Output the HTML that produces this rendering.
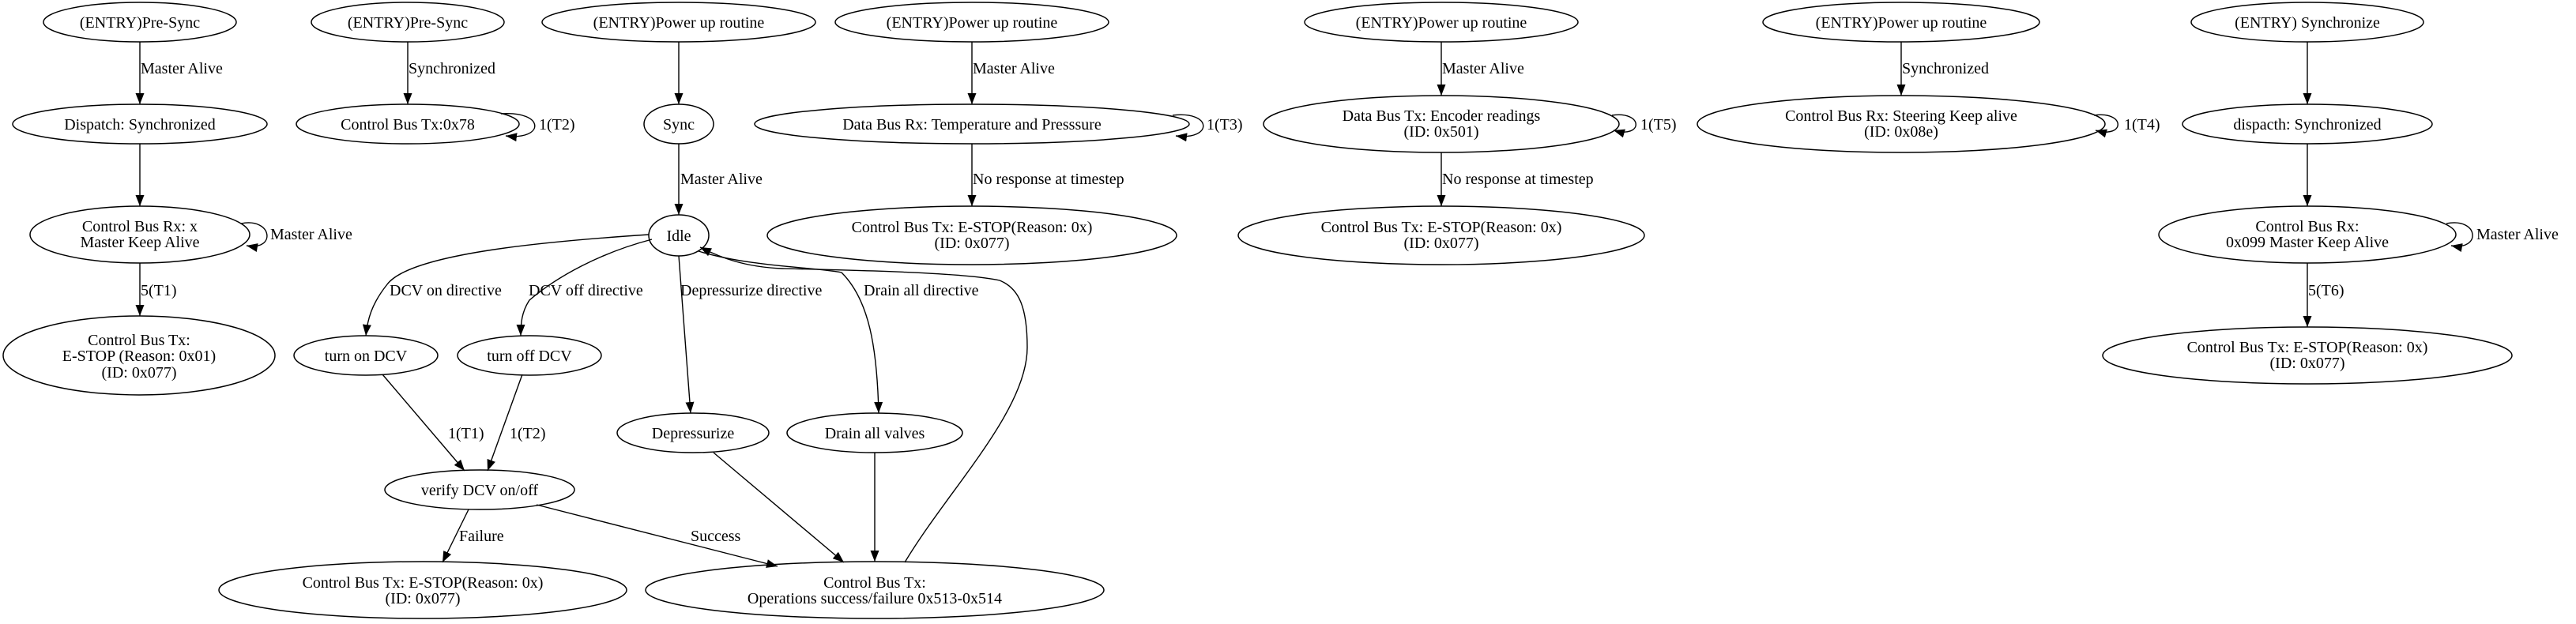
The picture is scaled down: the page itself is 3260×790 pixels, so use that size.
<!DOCTYPE html>
<html><head><meta charset="utf-8"><style>
html,body{margin:0;padding:0;background:#fff;width:3260px;height:790px;overflow:hidden}
svg text{font-family:"Liberation Serif","Times New Roman",serif;font-size:20px;fill:#000}
</style></head><body>
<svg width="3260" height="790" viewBox="0 0 3260 790" xmlns="http://www.w3.org/2000/svg">
<defs>
<marker id="a" markerUnits="userSpaceOnUse" markerWidth="14" markerHeight="11" refX="14" refY="5.5" orient="auto">
<path d="M0,0 L14,5.5 L0,11 z" fill="#000"/></marker>
</defs>
<g fill="none" stroke="#000" stroke-width="1.5">
<!-- col1 -->
<ellipse cx="177" cy="28" rx="122" ry="25"/>
<ellipse cx="177" cy="157" rx="161" ry="25"/>
<ellipse cx="177" cy="297" rx="139" ry="36"/>
<ellipse cx="176" cy="450" rx="172" ry="50"/>
<!-- col2 -->
<ellipse cx="516" cy="28" rx="122" ry="25"/>
<ellipse cx="516" cy="157" rx="141" ry="25"/>
<!-- col3 -->
<ellipse cx="859" cy="28" rx="173" ry="25"/>
<ellipse cx="859" cy="157" rx="44" ry="25"/>
<ellipse cx="859" cy="298" rx="38" ry="26"/>
<ellipse cx="463" cy="450" rx="91" ry="25"/>
<ellipse cx="670" cy="450" rx="91" ry="25"/>
<ellipse cx="877" cy="548" rx="96" ry="25"/>
<ellipse cx="1107" cy="548" rx="111" ry="25"/>
<ellipse cx="607" cy="620" rx="120" ry="25"/>
<ellipse cx="535" cy="747" rx="258" ry="36"/>
<ellipse cx="1107" cy="747" rx="290" ry="36"/>
<!-- col4 -->
<ellipse cx="1230" cy="28" rx="173" ry="25"/>
<ellipse cx="1230" cy="157" rx="275" ry="25"/>
<ellipse cx="1230" cy="298" rx="259" ry="37"/>
<!-- col5 -->
<ellipse cx="1824" cy="28" rx="173" ry="25"/>
<ellipse cx="1824" cy="157" rx="225" ry="36"/>
<ellipse cx="1824" cy="298" rx="257" ry="37"/>
<!-- col6 -->
<ellipse cx="2406" cy="28" rx="175" ry="25"/>
<ellipse cx="2406" cy="157" rx="258" ry="36"/>
<!-- col7 -->
<ellipse cx="2920" cy="28" rx="147" ry="25"/>
<ellipse cx="2920" cy="157" rx="158" ry="25"/>
<ellipse cx="2920" cy="297" rx="188" ry="36"/>
<ellipse cx="2920" cy="450" rx="259" ry="36"/>
</g>
<g fill="none" stroke="#000" stroke-width="1.4" marker-end="url(#a)">
<path d="M177,53 L177,132"/>
<path d="M177,182 L177,261"/>
<path d="M177,333 L177,400"/>
<path d="M305,283 C345,275 350,318 312,311"/>
<path d="M516,53 L516,132"/>
<path d="M634,144 C690,140 690,178 640,172"/>
<path d="M859,53 L859,132"/>
<path d="M859,182 L859,272"/>
<path d="M821,297 C700,305 520,320 490,360 C470,385 465,405 463,425"/>
<path d="M825,303 C760,320 705,350 670,380 C660,395 659,410 659,425"/>
<path d="M859,324 L874,523"/>
<path d="M884,318 C950,338 1030,338 1065,345 C1100,380 1110,440 1112,523"/>
<path d="M1145,712 C1200,620 1300,520 1300,440 C1300,390 1290,365 1265,355 C1220,345 1080,342 990,340 C940,338 910,325 886,313"/>
<path d="M484,474 L588,596"/>
<path d="M661,474 L617,596"/>
<path d="M593,645 L560,712"/>
<path d="M679,639 L984,717"/>
<path d="M903,573 L1068,712"/>
<path d="M1107,573 L1107,711"/>
<path d="M1230,53 L1230,132"/>
<path d="M1230,182 L1230,261"/>
<path d="M1484,146 C1535,140 1535,178 1488,172"/>
<path d="M1824,53 L1824,121"/>
<path d="M1824,193 L1824,261"/>
<path d="M2040,146 C2080,140 2080,176 2042,165"/>
<path d="M2406,53 L2406,121"/>
<path d="M2650,146 C2690,140 2690,176 2652,165"/>
<path d="M2920,53 L2920,132"/>
<path d="M2920,182 L2920,261"/>
<path d="M2920,333 L2920,414"/>
<path d="M3096,283 C3138,275 3140,318 3102,311"/>
</g>
<g text-anchor="middle">
<text x="177" y="35">(ENTRY)Pre-Sync</text>
<text x="177" y="164">Dispatch: Synchronized</text>
<text x="177" y="293">Control Bus Rx: x</text>
<text x="177" y="313">Master Keep Alive</text>
<text x="176" y="437">Control Bus Tx:</text>
<text x="176" y="457">E-STOP (Reason: 0x01)</text>
<text x="176" y="478">(ID: 0x077)</text>
<text x="516" y="35">(ENTRY)Pre-Sync</text>
<text x="516" y="164">Control Bus Tx:0x78</text>
<text x="859" y="35">(ENTRY)Power up routine</text>
<text x="859" y="164">Sync</text>
<text x="859" y="305">Idle</text>
<text x="463" y="457">turn on DCV</text>
<text x="670" y="457">turn off DCV</text>
<text x="877" y="555">Depressurize</text>
<text x="1107" y="555">Drain all valves</text>
<text x="607" y="627">verify DCV on/off</text>
<text x="535" y="744">Control Bus Tx: E-STOP(Reason: 0x)</text>
<text x="535" y="764">(ID: 0x077)</text>
<text x="1107" y="744">Control Bus Tx:</text>
<text x="1107" y="764">Operations success/failure 0x513-0x514</text>
<text x="1230" y="35">(ENTRY)Power up routine</text>
<text x="1230" y="164">Data Bus Rx: Temperature and Presssure</text>
<text x="1230" y="294">Control Bus Tx: E-STOP(Reason: 0x)</text>
<text x="1230" y="314">(ID: 0x077)</text>
<text x="1824" y="35">(ENTRY)Power up routine</text>
<text x="1824" y="153">Data Bus Tx: Encoder readings</text>
<text x="1824" y="173">(ID: 0x501)</text>
<text x="1824" y="294">Control Bus Tx: E-STOP(Reason: 0x)</text>
<text x="1824" y="314">(ID: 0x077)</text>
<text x="2406" y="35">(ENTRY)Power up routine</text>
<text x="2406" y="153">Control Bus Rx: Steering Keep alive</text>
<text x="2406" y="173">(ID: 0x08e)</text>
<text x="2920" y="35">(ENTRY) Synchronize</text>
<text x="2920" y="164">dispacth: Synchronized</text>
<text x="2920" y="293">Control Bus Rx:</text>
<text x="2920" y="313">0x099 Master Keep Alive</text>
<text x="2920" y="446">Control Bus Tx: E-STOP(Reason: 0x)</text>
<text x="2920" y="466">(ID: 0x077)</text>
</g>
<g text-anchor="start">
<text x="178" y="93">Master Alive</text>
<text x="342" y="303">Master Alive</text>
<text x="178" y="374">5(T1)</text>
<text x="517" y="93">Synchronized</text>
<text x="682" y="164">1(T2)</text>
<text x="861" y="233">Master Alive</text>
<text x="493" y="374">DCV on directive</text>
<text x="669" y="374">DCV off directive</text>
<text x="861" y="374">Depressurize directive</text>
<text x="1093" y="374">Drain all directive</text>
<text x="567" y="555">1(T1)</text>
<text x="645" y="555">1(T2)</text>
<text x="581" y="685">Failure</text>
<text x="874" y="685">Success</text>
<text x="1231" y="93">Master Alive</text>
<text x="1527" y="164">1(T3)</text>
<text x="1231" y="233">No response at timestep</text>
<text x="1825" y="93">Master Alive</text>
<text x="2076" y="164">1(T5)</text>
<text x="1825" y="233">No response at timestep</text>
<text x="2407" y="93">Synchronized</text>
<text x="2688" y="164">1(T4)</text>
<text x="3134" y="303">Master Alive</text>
<text x="2921" y="374">5(T6)</text>
</g>
</svg>
</body></html>
